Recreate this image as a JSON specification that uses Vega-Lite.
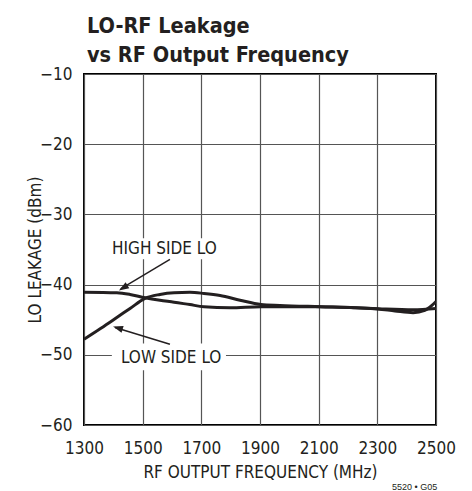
{
  "$schema": "https://vega.github.io/schema/vega-lite/v6.json",
  "width": 352,
  "height": 351,
  "autosize": {"type": "none"},
  "padding": {"left": 84, "top": 74, "right": 36, "bottom": 66},
  "background": "white",
  "title": {
    "text": ["LO-RF Leakage", "vs RF Output Frequency"],
    "anchor": "start",
    "frame": "group",
    "font": "'DejaVu Sans Condensed', 'Liberation Sans', sans-serif",
    "fontSize": 21.5,
    "fontWeight": "bold",
    "color": "#231f20",
    "lineHeight": 29,
    "offset": -1,
    "dx": 3
  },
  "datasets": {
    "curves": [
      {"freq": 1300, "leakage": -41.08, "side": "HIGH SIDE LO"},
      {"freq": 1412, "leakage": -41.16, "side": "HIGH SIDE LO"},
      {"freq": 1457, "leakage": -41.4, "side": "HIGH SIDE LO"},
      {"freq": 1508, "leakage": -41.87, "side": "HIGH SIDE LO"},
      {"freq": 1559, "leakage": -42.23, "side": "HIGH SIDE LO"},
      {"freq": 1607, "leakage": -42.5, "side": "HIGH SIDE LO"},
      {"freq": 1661, "leakage": -42.85, "side": "HIGH SIDE LO"},
      {"freq": 1709, "leakage": -43.15, "side": "HIGH SIDE LO"},
      {"freq": 1798, "leakage": -43.3, "side": "HIGH SIDE LO"},
      {"freq": 1903, "leakage": -43.15, "side": "HIGH SIDE LO"},
      {"freq": 2105, "leakage": -43.15, "side": "HIGH SIDE LO"},
      {"freq": 2227, "leakage": -43.3, "side": "HIGH SIDE LO"},
      {"freq": 2302, "leakage": -43.44, "side": "HIGH SIDE LO"},
      {"freq": 2422, "leakage": -43.6, "side": "HIGH SIDE LO"},
      {"freq": 2500, "leakage": -43.4, "side": "HIGH SIDE LO"},
      {"freq": 1300, "leakage": -47.8, "side": "LOW SIDE LO"},
      {"freq": 1355, "leakage": -46.3, "side": "LOW SIDE LO"},
      {"freq": 1402, "leakage": -44.96, "side": "LOW SIDE LO"},
      {"freq": 1457, "leakage": -43.4, "side": "LOW SIDE LO"},
      {"freq": 1508, "leakage": -41.95, "side": "LOW SIDE LO"},
      {"freq": 1559, "leakage": -41.4, "side": "LOW SIDE LO"},
      {"freq": 1607, "leakage": -41.16, "side": "LOW SIDE LO"},
      {"freq": 1661, "leakage": -41.1, "side": "LOW SIDE LO"},
      {"freq": 1709, "leakage": -41.26, "side": "LOW SIDE LO"},
      {"freq": 1764, "leakage": -41.55, "side": "LOW SIDE LO"},
      {"freq": 1832, "leakage": -42.22, "side": "LOW SIDE LO"},
      {"freq": 1903, "leakage": -42.83, "side": "LOW SIDE LO"},
      {"freq": 1968, "leakage": -42.97, "side": "LOW SIDE LO"},
      {"freq": 2105, "leakage": -43.15, "side": "LOW SIDE LO"},
      {"freq": 2227, "leakage": -43.3, "side": "LOW SIDE LO"},
      {"freq": 2302, "leakage": -43.47, "side": "LOW SIDE LO"},
      {"freq": 2360, "leakage": -43.75, "side": "LOW SIDE LO"},
      {"freq": 2422, "leakage": -44.0, "side": "LOW SIDE LO"},
      {"freq": 2462, "leakage": -43.68, "side": "LOW SIDE LO"},
      {"freq": 2486, "leakage": -42.97, "side": "LOW SIDE LO"},
      {"freq": 2500, "leakage": -42.4, "side": "LOW SIDE LO"}
    ],
    "one": [{}]
  },
  "layer": [
    {
      "data": {"name": "curves"},
      "mark": {"type": "line", "interpolate": "monotone", "color": "#231f20", "strokeWidth": 3, "clip": true},
      "encoding": {
        "x": {
          "field": "freq", "type": "quantitative",
          "scale": {"domain": [1300, 2500], "nice": false, "zero": false},
          "axis": {"values": [1300, 1500, 1700, 1900, 2100, 2300, 2500], "format": "d", "title": "RF OUTPUT FREQUENCY (MHz)", "labelPadding": 15, "titlePadding": 8, "labelFlush": false}
        },
        "y": {
          "field": "leakage", "type": "quantitative",
          "scale": {"domain": [-60, -10], "nice": false, "zero": false},
          "axis": {"values": [-60, -50, -40, -30, -20, -10], "title": "LO LEAKAGE (dBm)", "labelPadding": 12, "titlePadding": -5}
        },
        "detail": {"field": "side"}
      }
    },
    {
      "data": {"name": "one"},
      "mark": {"type": "rect", "color": "white"},
      "encoding": {
        "x": {"datum": 1385}, "x2": {"datum": 1770},
        "y": {"datum": -33.4}, "y2": {"datum": -36.4}
      }
    },
    {
      "data": {"name": "one"},
      "mark": {"type": "rect", "color": "white"},
      "encoding": {
        "x": {"datum": 1395}, "x2": {"datum": 1784},
        "y": {"datum": -48.4}, "y2": {"datum": -52.2}
      }
    },
    {
      "data": {"name": "one"},
      "mark": {"type": "text", "text": "HIGH SIDE LO", "fontSize": 17, "color": "#231f20", "align": "center", "baseline": "middle"},
      "encoding": {"x": {"datum": 1574}, "y": {"datum": -34.9}}
    },
    {
      "data": {"name": "one"},
      "mark": {"type": "text", "text": "LOW SIDE LO", "fontSize": 17, "color": "#231f20", "align": "center", "baseline": "middle"},
      "encoding": {"x": {"datum": 1597}, "y": {"datum": -50.4}}
    },
    {
      "data": {"name": "one"},
      "mark": {"type": "rule", "color": "#231f20", "strokeWidth": 1.5},
      "encoding": {"x": {"datum": 1593}, "y": {"datum": -36.4}, "x2": {"datum": 1425}, "y2": {"datum": -40.6}}
    },
    {
      "data": {"name": "one"},
      "mark": {"type": "point", "shape": "M0,0L-0.7,2L0.7,2Z", "filled": true, "color": "#231f20", "opacity": 1, "size": 100, "angle": 238.7},
      "encoding": {"x": {"datum": 1419}, "y": {"datum": -40.83}}
    },
    {
      "data": {"name": "one"},
      "mark": {"type": "rule", "color": "#231f20", "strokeWidth": 1.5},
      "encoding": {"x": {"datum": 1593}, "y": {"datum": -48.5}, "x2": {"datum": 1406}, "y2": {"datum": -46.1}}
    },
    {
      "data": {"name": "one"},
      "mark": {"type": "point", "shape": "M0,0L-0.7,2L0.7,2Z", "filled": true, "color": "#231f20", "opacity": 1, "size": 100, "angle": 287.5},
      "encoding": {"x": {"datum": 1399}, "y": {"datum": -45.96}}
    },
    {
      "data": {"name": "one"},
      "mark": {"type": "text", "text": "5520 • G05", "font": "'Liberation Sans', sans-serif", "fontSize": 9, "color": "#231f20", "align": "right", "baseline": "middle"},
      "encoding": {"x": {"datum": 2504}, "y": {"datum": -68.9}}
    }
  ],
  "config": {
    "font": "'DejaVu Sans Condensed', 'Liberation Sans', sans-serif",
    "view": {"stroke": "#000000", "strokeWidth": 2},
    "axis": {
      "grid": true,
      "gridColor": "#555555",
      "gridWidth": 1.2,
      "gridOpacity": 1,
      "domain": false,
      "ticks": false,
      "labelFont": "'DejaVu Sans Condensed', 'Liberation Sans', sans-serif",
      "labelFontSize": 17,
      "labelColor": "#231f20",
      "titleFont": "'DejaVu Sans Condensed', 'Liberation Sans', sans-serif",
      "titleFontSize": 17,
      "titleFontWeight": "normal",
      "titleColor": "#231f20"
    }
  }
}
